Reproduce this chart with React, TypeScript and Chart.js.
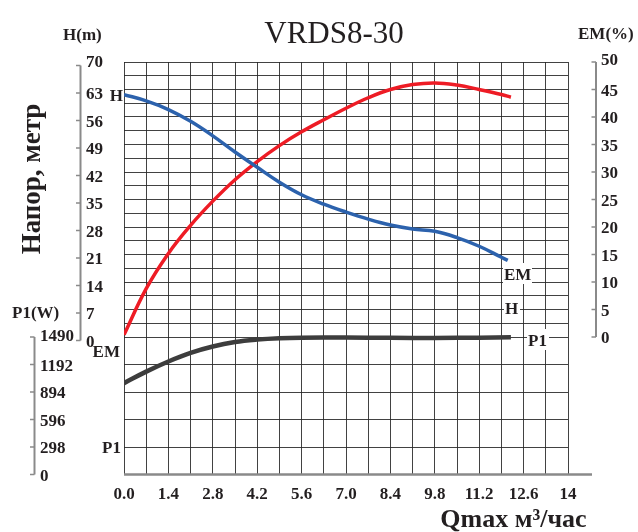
import React, { useEffect, useRef } from 'react';
import { Chart, registerables } from 'chart.js';

Chart.register(...registerables);

const FONT = "'Liberation Serif', 'Times New Roman', serif";
const INK = '#231f20';

// ---- data ----
const flowH = [0, 0.7, 1.4, 2.1, 2.8, 3.5, 4.2, 4.9, 5.6, 6.3, 7.0, 7.7, 8.4, 9.1, 9.8, 10.5, 11.2, 11.9, 12.1];
const headH = [61.7, 60.1, 57.9, 54.9, 51.2, 47.1, 43.2, 39.4, 36.2, 33.8, 31.8, 30.0, 28.5, 27.5, 26.9, 25.3, 23.1, 20.3, 19.5];

const flowEM = [0, 0.7, 1.4, 2.1, 2.8, 3.5, 4.2, 4.9, 5.6, 6.3, 7.0, 7.7, 8.4, 9.1, 9.8, 10.5, 11.2, 11.9, 12.2];
const effEM = [0.4, 8.8, 15.2, 20.3, 24.7, 28.6, 31.9, 34.8, 37.3, 39.5, 41.6, 43.5, 45.0, 45.9, 46.2, 45.8, 45.0, 44.1, 43.6];

const flowP1 = [0, 0.7, 1.4, 2.1, 2.8, 3.5, 4.2, 4.9, 5.6, 7.0, 8.4, 9.8, 11.2, 12.2];
const powerP1 = [990, 1115, 1225, 1318, 1387, 1435, 1462, 1477, 1483, 1484, 1481, 1480, 1482, 1486];

const xGridValues = [0, 0.7, 1.4, 2.1, 2.8, 3.5, 4.2, 4.9, 5.6, 6.3, 7.0, 7.7, 8.4, 9.1, 9.8, 10.5, 11.2, 11.9, 12.6, 13.3, 14];
const xTickLabels = ['0.0', '1.4', '2.8', '4.2', '5.6', '7.0', '8.4', '9.8', '11.2', '12.6', '14'];
const hGridValues = [-35, -28, -21, -14, -7, 0, 3.5, 7, 10.5, 14, 17.5, 21, 24.5, 28, 31.5, 35, 38.5, 42, 45.5, 49, 52.5, 56, 59.5, 63, 66.5, 70];
const hTickValues = [0, 7, 14, 21, 28, 35, 42, 49, 56, 63, 70];
const emTickValues = [0, 5, 10, 15, 20, 25, 30, 35, 40, 45, 50];
const p1TickValues = [0, 298, 596, 894, 1192, 1490];

const toPoints = (xs: number[], ys: number[]) => xs.map((x, i) => ({ x, y: ys[i] }));

const decor = {
  id: 'decor',
  afterDraw(chart: any) {
    const ctx: CanvasRenderingContext2D = chart.ctx;
    const area = chart.chartArea;
    const sH = chart.scales.yH;
    const sEM = chart.scales.yEM;
    const sP = chart.scales.yP1;
    ctx.save();

    // bottom axis line extending past the grid
    ctx.strokeStyle = '#8a8a8a';
    ctx.lineWidth = 2.5;
    ctx.beginPath();
    ctx.moveTo(area.left, area.bottom);
    ctx.lineTo(592, area.bottom);
    ctx.stroke();

    const tickFont = `bold 17px ${FONT}`;
    const drawAxis = (lineX: number, vals: number[], scale: any, off: number, labelX: number, topRaise: number) => {
      const ys = vals.map((v) => scale.getPixelForValue(v) + off);
      ctx.strokeStyle = '#8a8a8a';
      ctx.lineWidth = 2;
      ctx.beginPath();
      ctx.moveTo(lineX, Math.min(...ys));
      ctx.lineTo(lineX, Math.max(...ys));
      ctx.stroke();
      ctx.lineWidth = 1.5;
      ys.forEach((y) => {
        ctx.beginPath();
        ctx.moveTo(lineX - 4.5, y);
        ctx.lineTo(lineX, y);
        ctx.stroke();
      });
      ctx.fillStyle = INK;
      ctx.font = tickFont;
      ctx.textAlign = 'left';
      ctx.textBaseline = 'alphabetic';
      vals.forEach((v, i) => {
        const raise = i === vals.length - 1 ? topRaise : 0;
        ctx.fillText(String(v), labelX, ys[i] + 6 - raise);
      });
    };
    drawAxis(80.5, hTickValues, sH, 3.5, 86, 5);
    drawAxis(596, emTickValues, sEM, 0, 601, 3);
    drawAxis(34.5, p1TickValues, sP, 0, 40, 2);

    ctx.fillStyle = INK;
    // title
    ctx.font = `normal 31px ${FONT}`;
    ctx.textAlign = 'center';
    ctx.fillText('VRDS8-30', 334, 43);

    // axis unit captions
    ctx.font = `bold 17px ${FONT}`;
    ctx.textAlign = 'left';
    ctx.fillText('H(m)', 63, 40);
    ctx.fillText('EM(%)', 578, 39);
    ctx.fillText('P1(W)', 12, 318);

    // curve captions on the left
    ctx.textAlign = 'right';
    ctx.fillText('H', area.left - 1, 101);
    ctx.fillText('EM', area.left - 4, 357);
    ctx.fillText('P1', area.left - 3, 453);

    // curve captions on the right with white boxes
    const boxLabel = (t: string, x: number, base: number, w: number) => {
      ctx.fillStyle = '#fff';
      ctx.fillRect(x - 1, base - 17, w, 21);
      ctx.fillStyle = INK;
      ctx.textAlign = 'left';
      ctx.fillText(t, x, base);
    };
    boxLabel('EM', 504, 280, 29);
    boxLabel('H', 505, 314, 16);
    boxLabel('P1', 528, 346, 22);

    // axis titles
    ctx.font = `bold 27px ${FONT}`;
    ctx.textAlign = 'center';
    ctx.save();
    ctx.translate(40, 179);
    ctx.rotate(-Math.PI / 2);
    ctx.fillText('Напор, метр', 0, 0);
    ctx.restore();

    ctx.font = `bold 26px ${FONT}`;
    ctx.fillText('Qmax м³/час', 513.5, 527);

    ctx.restore();
  },
};

export default function App() {
  const ref = useRef<HTMLCanvasElement>(null);
  useEffect(() => {
    const canvas = ref.current!;
    const gridColor = 'rgba(40,40,40,0.88)';
    const line = (label: string, data: any, axis: string, color: string, width: number) => ({
      label,
      data,
      yAxisID: axis,
      borderColor: color,
      borderWidth: width,
      pointRadius: 0,
      tension: 0.4,
      fill: false,
    });
    const chart = new Chart(canvas, {
      type: 'line',
      data: {
        datasets: [
          line('H', toPoints(flowH, headH), 'yH', '#2c62ad', 3.5),
          line('EM', toPoints(flowEM, effEM), 'yEM', '#ee1c25', 3.5),
          line('P1', toPoints(flowP1, powerP1), 'yP1', '#3d3d3d', 4.5),
        ],
      },
      options: {
        responsive: false,
        animation: false,
        layout: { padding: { left: 124, right: 70, top: 62, bottom: 27.5 } },
        plugins: { legend: { display: false }, tooltip: { enabled: false }, title: { display: false } },
        scales: {
          x: {
            type: 'linear',
            min: 0,
            max: 14,
            afterBuildTicks: (scale: any) => {
              scale.ticks = xGridValues.map((value) => ({ value }));
            },
            afterFit: (scale: any) => {
              scale.height = 30;
            },
            grid: { color: gridColor, lineWidth: 1, drawTicks: false },
            border: { display: false },
            ticks: {
              autoSkip: false,
              maxRotation: 0,
              padding: 10,
              color: INK,
              font: { family: FONT, size: 17, weight: 'bold' },
              callback: (_v: any, i: number) => (i % 2 === 0 ? xTickLabels[i / 2] : ''),
            },
          },
          yH: {
            type: 'linear',
            position: 'left',
            min: -35,
            max: 70,
            afterBuildTicks: (scale: any) => {
              scale.ticks = hGridValues.map((value) => ({ value }));
            },
            afterFit: (scale: any) => {
              scale.width = 0;
            },
            grid: { color: gridColor, lineWidth: 1, drawTicks: false },
            border: { display: false },
            ticks: { display: false },
          },
          yEM: { type: 'linear', display: false, min: -25, max: 50 },
          yP1: { type: 'linear', display: false, min: 0, max: 4470 },
        },
      },
      plugins: [decor],
    } as any);
    return () => chart.destroy();
  }, []);
  return (
    <div style={{ position: 'fixed', left: 0, top: 0, width: 638, height: 532, background: '#fff' }}>
      <canvas ref={ref} width={638} height={532} style={{ display: 'block' }} />
    </div>
  );
}
